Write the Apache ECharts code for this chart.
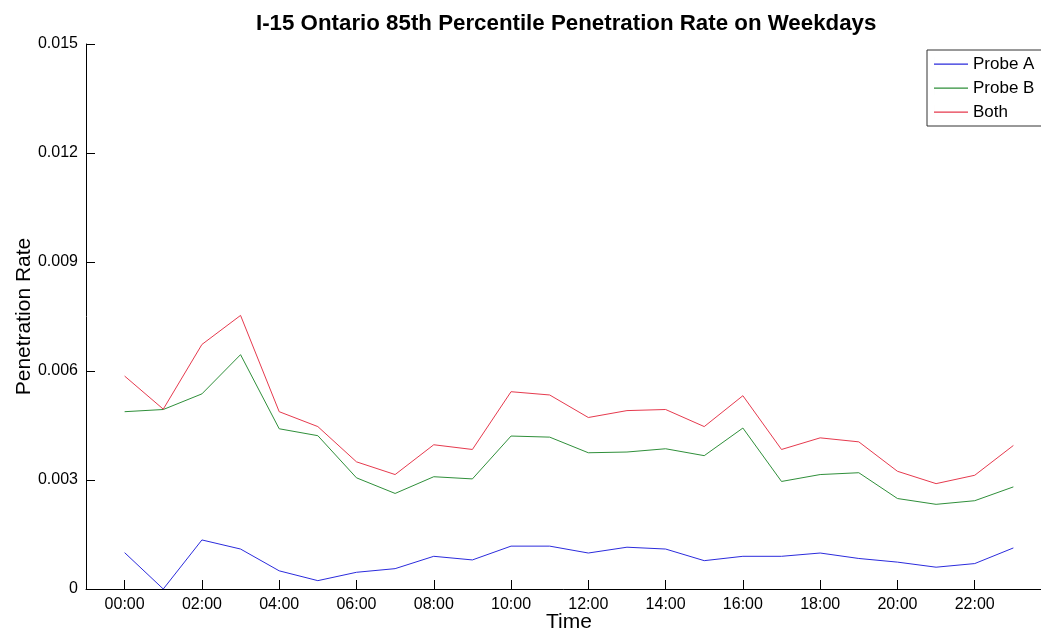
<!DOCTYPE html>
<html>
<head>
<meta charset="utf-8">
<script src="https://cdn.jsdelivr.net/npm/echarts@6/dist/echarts.min.js"></script>
<style>
html,body{margin:0;padding:0;background:#fff;}
#chart{width:1041px;height:632px;}
</style>
</head>
<body>
<div id="chart"></div>
<script>
const hours = [0,1,2,3,4,5,6,7,8,9,10,11,12,13,14,15,16,17,18,19,20,21,22,23];
const tickHours = [0,2,4,6,8,10,12,14,16,18,20,22];
const tickLabels = ['00:00','02:00','04:00','06:00','08:00','10:00','12:00','14:00','16:00','18:00','20:00','22:00'];
const yTicks = [0, 0.003, 0.006, 0.009, 0.012, 0.015];
const yTickLabels = ['0','0.003','0.006','0.009','0.012','0.015'];

const probeA = [0.00100,0.00000,0.00135,0.00110,0.00050,0.00023,0.00046,0.00056,0.00090,0.00080,0.00118,0.00118,
                0.00099,0.00115,0.00110,0.00078,0.00090,0.00090,0.00099,0.00084,0.00074,0.00060,0.00070,0.00113];
const probeB = [0.00488,0.00494,0.00537,0.00645,0.00441,0.00422,0.00306,0.00263,0.00309,0.00303,0.00421,0.00418,
                0.00375,0.00377,0.00386,0.00367,0.00443,0.00296,0.00315,0.00320,0.00249,0.00233,0.00243,0.00281];
const both   = [0.00586,0.00495,0.00673,0.00753,0.00488,0.00447,0.00350,0.00315,0.00397,0.00384,0.00543,0.00534,
                0.00472,0.00491,0.00494,0.00447,0.00532,0.00384,0.00416,0.00405,0.00324,0.00290,0.00313,0.00395];

const seriesNames = ['Probe A','Probe B','Both'];
const seriesValues = [probeA, probeB, both];
const seriesColors = ['#2b2bdc','#2f8f3a','#e63a4e'];

const chart = echarts.init(document.getElementById('chart'), null, {renderer:'canvas'});
const font = 'Liberation Sans, Arial, Helvetica, sans-serif';

chart.setOption({
  backgroundColor:'#ffffff',
  animation:false,
  title:{
    text:'I-15 Ontario 85th Percentile Penetration Rate on Weekdays',
    left:256, top:13, padding:0,
    textStyle:{fontFamily:font,fontSize:22.3,fontWeight:'bold',color:'#000'}
  },
  legend:{
    orient:'vertical',
    left:927, top:50,
    padding:[4,40,4,7],
    icon:'path://M0,0 h0.01 v14 h-0.01 Z M0,6.5 h34 v1.2 h-34 Z',
    itemWidth:34, itemHeight:14, itemGap:4,
    borderColor:'#333', borderWidth:1, backgroundColor:'#fff',
    textStyle:{fontFamily:font,fontSize:17,color:'#000',lineHeight:20},
    data:seriesNames
  },
  grid:{left:86, right:-11, top:44, bottom:43, outerBoundsMode:'none'},
  xAxis:{
    type:'value', min:-1, max:24,
    name:'Time', nameLocation:'middle', nameGap:23, nameMoveOverlap:false,
    nameTextStyle:{fontFamily:font,fontSize:21,color:'#000'},
    axisLine:{show:true,onZero:false,lineStyle:{color:'#000',width:1}},
    axisTick:{show:true,inside:true,length:9,customValues:tickHours,lineStyle:{color:'#000'}},
    axisLabel:{show:true,fontFamily:font,fontSize:16,color:'#000',margin:8,customValues:tickHours,
      formatter:function(v){const i=tickHours.indexOf(Math.round(v));return i>=0?tickLabels[i]:'';}},
    splitLine:{show:false}
  },
  yAxis:{
    type:'value', min:0, max:0.015, interval:0.003,
    name:'Penetration Rate', nameLocation:'middle', nameGap:51, nameMoveOverlap:false,
    nameTextStyle:{fontFamily:font,fontSize:21,color:'#000'},
    axisLine:{show:true,onZero:false,lineStyle:{color:'#000',width:1}},
    axisTick:{show:true,inside:true,length:9,lineStyle:{color:'#000'}},
    axisLabel:{fontFamily:font,fontSize:16,color:'#000',margin:8,
      formatter:function(v){let best=0;for(let i=0;i<yTicks.length;i++){if(Math.abs(yTicks[i]-v)<Math.abs(yTicks[best]-v))best=i;}return yTickLabels[best];}},
    splitLine:{show:false}
  },
  series: seriesNames.map(function(n,k){
    return {
      name:n, type:'line', symbol:'none', showSymbol:false,
      lineStyle:{width:1,color:seriesColors[k]}, itemStyle:{color:seriesColors[k]},
      data: hours.map(function(h,i){return [h, seriesValues[k][i]];})
    };
  })
});
</script>
</body>
</html>
